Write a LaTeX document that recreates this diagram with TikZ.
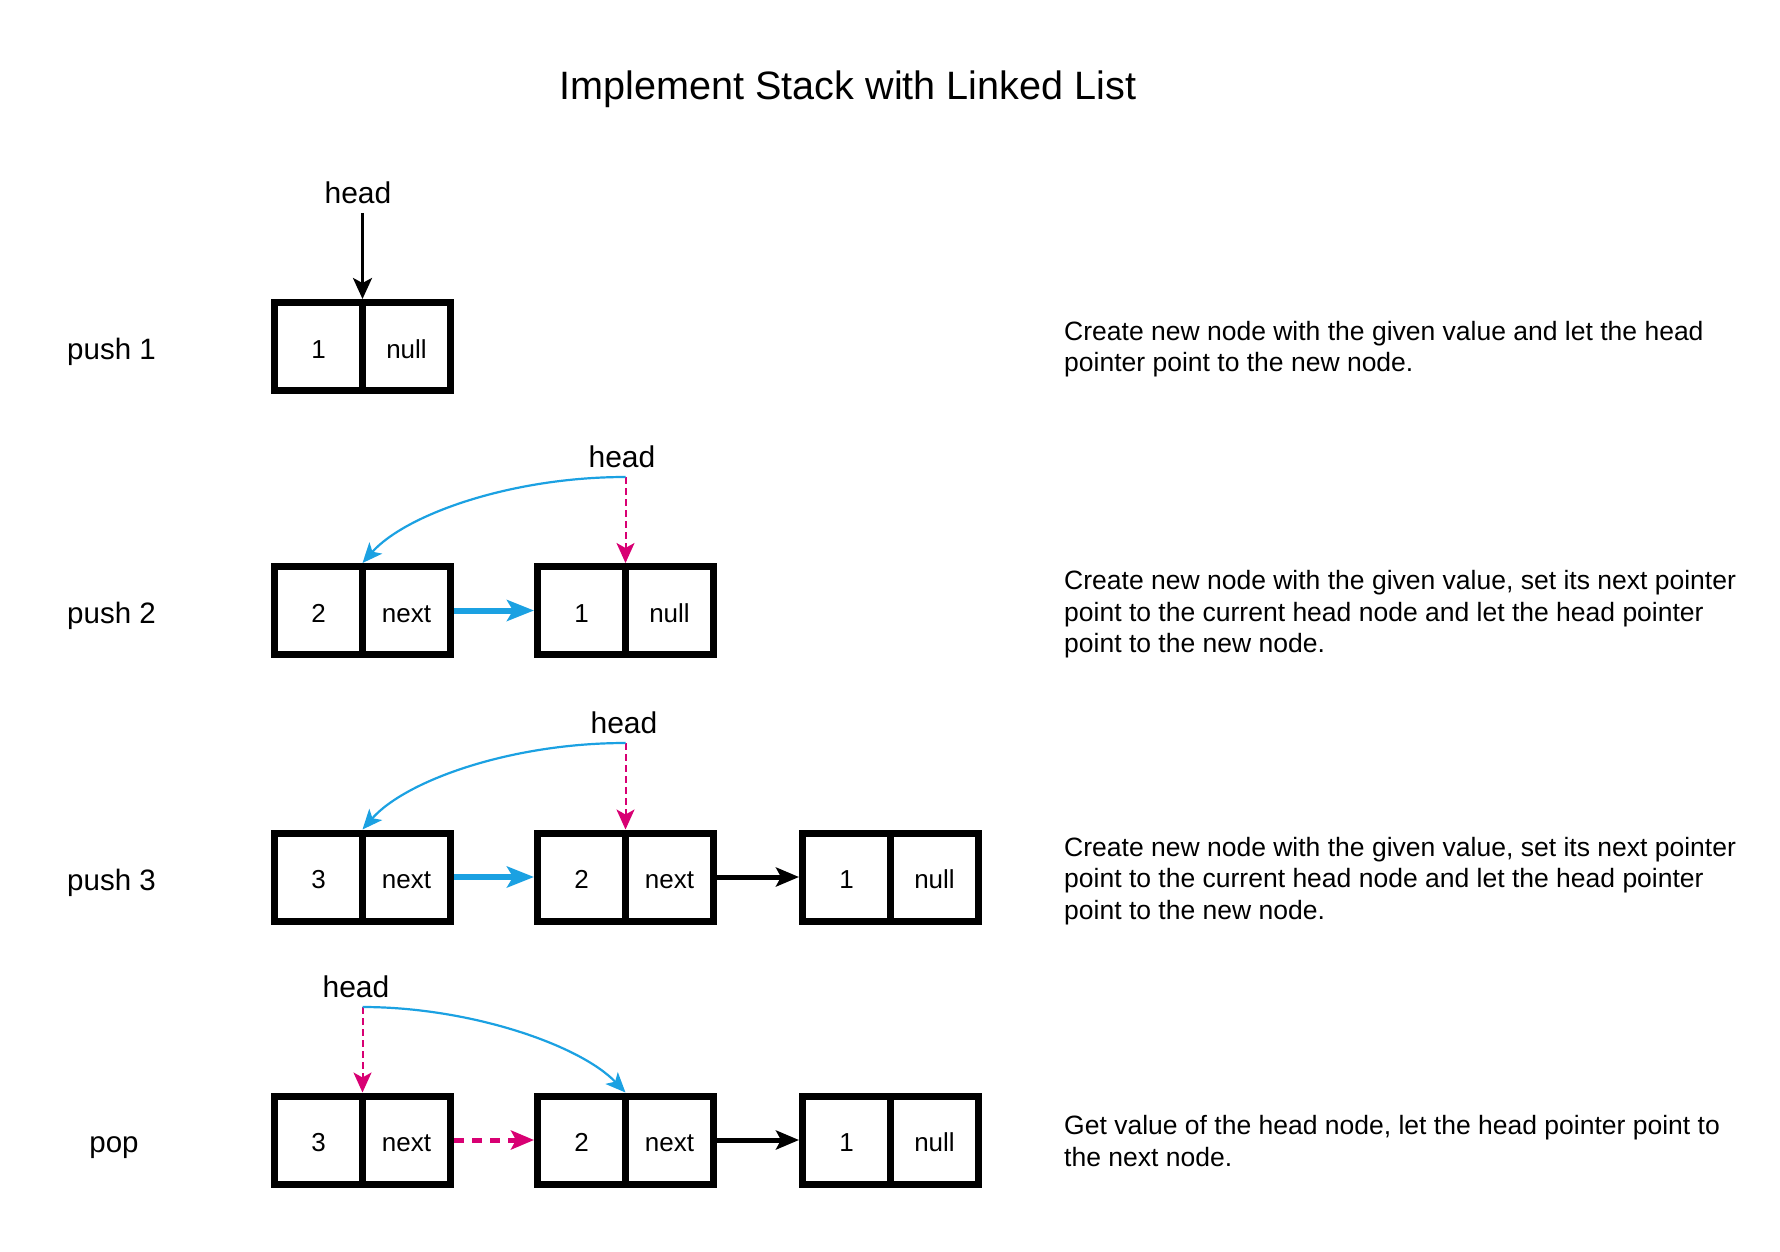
\documentclass[tikz,border=0pt]{standalone}
\usepackage{fontspec}
\setmainfont{Liberation Sans}
\usetikzlibrary{arrows.meta,calc}
\definecolor{cyanarr}{HTML}{1BA1E2}
\definecolor{magarr}{HTML}{D80073}
\begin{document}
\begin{tikzpicture}[x=1pt,y=-1pt,
  cell/.style={draw=black,line width=7pt,minimum width=88pt,minimum height=88pt,inner sep=0pt,
    text height=23pt,text depth=0pt,font=\fontsize{26}{30}\selectfont},
  desc/.style={anchor=west,align=left,inner sep=0pt,font=\fontsize{26.5}{31.5}\selectfont},
  rowlabel/.style={anchor=west,inner sep=0pt,font=\fontsize{29.5}{34}\selectfont},
  headlabel/.style={anchor=base,inner sep=0pt,font=\fontsize{30}{34}\selectfont},
  blackptr/.style={draw=black,line width=3pt,-{Stealth[length=21pt,width=19pt,inset=5pt]}},
  cyancurve/.style={draw=cyanarr,line width=2.2pt,-{Stealth[length=20pt,width=17pt,inset=5pt]}},
  magdash/.style={draw=magarr,line width=2pt,dash pattern=on 7pt off 4pt,-{Stealth[length=20pt,width=18pt,inset=5pt]}},
  cyanlink/.style={draw=cyanarr,line width=6pt,-{Stealth[length=27pt,width=21pt,inset=6pt]}},
  blacklink/.style={draw=black,line width=5pt,-{Stealth[length=23pt,width=19pt,inset=5pt]}},
  maglink/.style={draw=magarr,line width=5pt,dash pattern=on 10pt off 8pt,-{Stealth[length=23pt,width=19pt,inset=5pt]}}
]
\useasboundingbox (0,0) rectangle (1780,1252);
\fill[white] (0,0) rectangle (1780,1252);

% title
\node[anchor=base,inner sep=0pt,font=\fontsize{39.6}{44}\selectfont] (title) at (848,100) {Implement Stack with Linked List};

% row labels
\node[rowlabel] (l1) at (67,352) {push 1};
\node[rowlabel] (l2) at (67,616) {push 2};
\node[rowlabel] (l3) at (67,883) {push 3};
\node[anchor=center,inner sep=0pt,font=\fontsize{29.5}{34}\selectfont] (l4) at (114,1148) {pop};

% row 1
\node[cell] (r1a1) at (318.5,346.5) {1};
\node[cell] (r1a2) at (406.5,346.5) {null};

% row 2
\node[cell] (r2a1) at (318.5,610.5) {2};
\node[cell] (r2a2) at (406.5,610.5) {next};
\node[cell] (r2b1) at (581.5,610.5) {1};
\node[cell] (r2b2) at (669.5,610.5) {null};

% row 3
\node[cell] (r3a1) at (318.5,877) {3};
\node[cell] (r3a2) at (406.5,877) {next};
\node[cell] (r3b1) at (581.5,877) {2};
\node[cell] (r3b2) at (669.5,877) {next};
\node[cell] (r3c1) at (846.5,877) {1};
\node[cell] (r3c2) at (934.5,877) {null};

% row 4
\node[cell] (r4a1) at (318.5,1140) {3};
\node[cell] (r4a2) at (406.5,1140) {next};
\node[cell] (r4b1) at (581.5,1140) {2};
\node[cell] (r4b2) at (669.5,1140) {next};
\node[cell] (r4c1) at (846.5,1140) {1};
\node[cell] (r4c2) at (934.5,1140) {null};

% head labels and start points
\node[headlabel] (h1) at (358,204) {head};
\coordinate (s1) at (362.5,213);
\node[headlabel] (h2) at (622,467) {head};
\coordinate (s2) at (625.5,477);
\node[headlabel] (h3) at (624,733) {head};
\coordinate (s3) at (625.5,743);
\node[headlabel] (h4) at (356,997) {head};
\coordinate (s4) at (362.5,1007);

% tip points (top of dividers)
\coordinate (d1) at ($(r1a1.north)!0.5!(r1a2.north)$);
\coordinate (d2a) at ($(r2a1.north)!0.5!(r2a2.north)$);
\coordinate (d2b) at ($(r2b1.north)!0.5!(r2b2.north)$);
\coordinate (d3a) at ($(r3a1.north)!0.5!(r3a2.north)$);
\coordinate (d3b) at ($(r3b1.north)!0.5!(r3b2.north)$);
\coordinate (d4a) at ($(r4a1.north)!0.5!(r4a2.north)$);
\coordinate (d4b) at ($(r4b1.north)!0.5!(r4b2.north)$);

% push 1
\draw[blackptr] (s1) -- (d1);

% push 2
\draw[magdash] (s2) -- (d2b);
\draw[cyancurve] (s2) .. controls (510,477) and (405,515) .. (d2a);
\draw[cyanlink] (r2a2.east) -- (r2b1.west);

% push 3
\draw[magdash] (s3) -- (d3b);
\draw[cyancurve] (s3) .. controls (510,743) and (405,781) .. (d3a);
\draw[cyanlink] (r3a2.east) -- (r3b1.west);
\draw[blacklink] (r3b2.east) -- (r3c1.west);

% pop
\draw[magdash] (s4) -- (d4a);
\draw[cyancurve] (s4) .. controls (470,1007) and (580,1045) .. (d4b);
\draw[maglink] (r4a2.east) -- (r4b1.west);
\draw[blacklink] (r4b2.east) -- (r4c1.west);

% descriptions
\node[desc] (t1) at (1064,349) {Create new node with the given value and let the head\\pointer point to the new node.};
\node[desc] (t2) at (1064,614.5) {Create new node with the given value, set its next pointer\\point to the current head node and let the head pointer\\point to the new node.};
\node[desc] (t3) at (1064,881) {Create new node with the given value, set its next pointer\\point to the current head node and let the head pointer\\point to the new node.};
\node[desc] (t4) at (1064,1141) {Get value of the head node, let the head pointer point to\\the next node.};
\end{tikzpicture}
\end{document}
